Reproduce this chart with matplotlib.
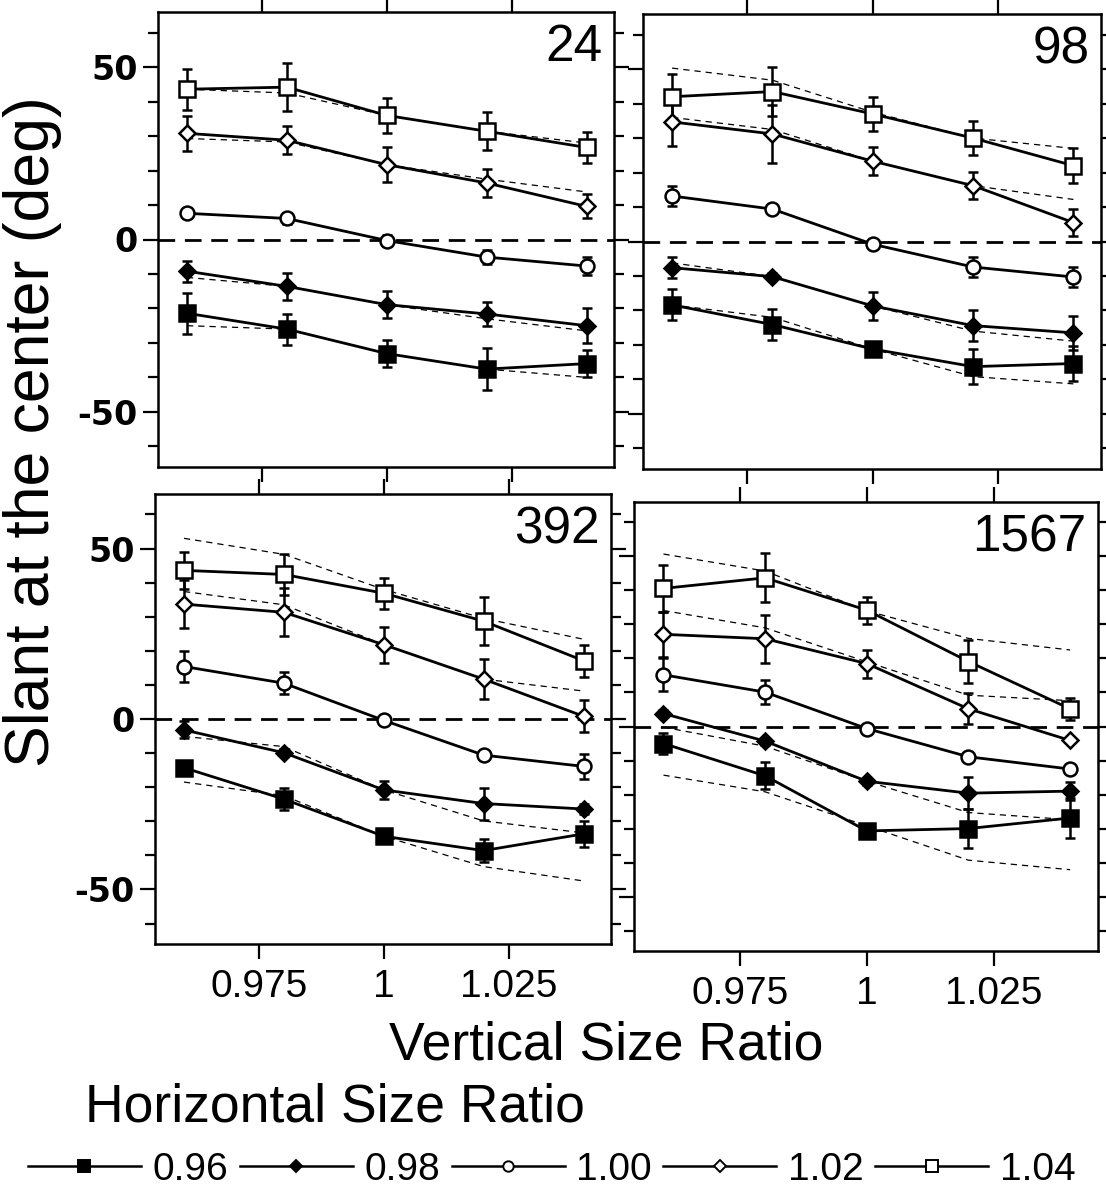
import matplotlib
matplotlib.use("Agg")
import matplotlib.pyplot as plt
from matplotlib.lines import Line2D
from matplotlib.ticker import MultipleLocator

plt.rcParams['font.family'] = ['Liberation Sans', 'DejaVu Sans']

# Vertical size ratio (x) and horizontal size ratio (one curve each)
vertical_ratio = [0.96, 0.98, 1.00, 1.02, 1.04]
horizontal_ratio = ['0.96', '0.98', '1.00', '1.02', '1.04']
panel_names = ['24', '98', '392', '1567']

# Measured slant (deg): one row per horizontal ratio
slant_24 = [[-21.4, -26.0, -33.1, -37.6, -36.0],
            [-9.2, -13.6, -18.9, -21.6, -25.0],
            [7.6, 6.1, -0.3, -5.1, -7.7],
            [30.8, 28.8, 21.7, 16.4, 9.6],
            [43.6, 44.2, 36.0, 31.4, 26.7]]
err_24 = [[6.0, 4.5, 4.0, 6.0, 4.0],
          [3.0, 4.0, 4.0, 3.5, 5.0],
          [1.5, 1.5, 1.5, 2.0, 2.5],
          [5.0, 4.0, 5.0, 4.0, 3.5],
          [6.0, 7.0, 5.0, 5.5, 4.5]]
model_24 = [[-25.0, -26.0, -33.1, -37.6, -40.0],
            [-11.0, -13.6, -18.9, -23.0, -26.5],
            None,
            [29.3, 28.3, 21.7, 17.5, 13.8],
            [43.6, 42.5, 36.0, 31.4, 28.0]]

slant_98 = [[-18.4, -24.1, -31.2, -36.3, -35.4],
            [-7.6, -10.2, -18.7, -24.4, -26.5],
            [13.2, 9.4, -0.8, -7.4, -10.3],
            [34.7, 31.2, 23.3, 16.2, 5.5],
            [42.0, 43.5, 37.0, 30.0, 22.0]]
err_98 = [[4.5, 4.5, 0.8, 5.0, 5.0],
          [3.0, 1.0, 4.0, 4.5, 5.0],
          [3.0, 1.0, 1.0, 3.0, 3.0],
          [7.0, 8.5, 4.0, 4.0, 4.0],
          [6.5, 7.0, 5.0, 5.0, 5.0]]
model_98 = [[-18.4, -22.0, -31.2, -39.2, -41.3],
            [-6.2, -10.2, -18.7, -26.0, -28.9],
            None,
            [36.0, 32.5, 23.3, 16.2, 12.2],
            [50.3, 46.8, 37.5, 30.0, 27.0]]

slant_392 = [[-14.3, -23.5, -34.4, -38.6, -33.7],
             [-3.2, -9.9, -20.8, -24.8, -26.4],
             [15.4, 10.5, -0.4, -10.6, -13.9],
             [33.7, 31.3, 21.8, 11.7, 0.8],
             [43.6, 42.4, 36.9, 28.7, 17.1]]
err_392 = [[1.0, 3.2, 1.0, 3.4, 3.7],
           [2.5, 1.0, 2.7, 4.7, 1.5],
           [4.6, 3.3, 1.0, 1.0, 3.7],
           [7.0, 7.0, 5.3, 5.8, 4.7],
           [5.5, 6.0, 4.5, 7.0, 4.7]]
model_392 = [[-18.5, -22.5, -34.4, -43.3, -47.5],
             [-5.1, -8.1, -20.8, -29.9, -33.4],
             None,
             [37.4, 33.5, 21.8, 11.7, 8.2],
             [53.0, 48.3, 38.0, 29.5, 23.4]]

slant_1567 = [[-5.0, -14.5, -30.7, -30.0, -26.9],
              [3.8, -4.3, -16.1, -19.6, -19.0],
              [15.2, 10.1, -0.6, -8.9, -12.5],
              [27.1, 25.8, 18.5, 5.2, -4.1],
              [40.6, 43.7, 34.2, 19.1, 5.2]]
err_1567 = [[3.0, 4.0, 1.0, 5.6, 5.9],
            [1.0, 1.0, 1.0, 4.7, 2.7],
            [4.9, 3.6, 1.0, 1.0, 1.0],
            [6.7, 7.0, 4.1, 4.6, 0.5],
            [7.0, 7.2, 4.0, 6.2, 3.2]]
model_1567 = [[-14.3, -19.2, -29.2, -39.3, -42.1],
              [-0.2, -5.8, -16.1, -25.3, -27.4],
              None,
              [34.1, 29.0, 19.0, 9.2, 7.6],
              [50.7, 45.7, 34.0, 25.9, 22.5]]

x_ticks = [0.975, 1.0, 1.025]
x_tick_labels = ['0.975', '1', '1.025']
y_ticks = [-50, 0, 50]
y_tick_labels = ['-50', '0', '50']

# marker, face colour, marker size for each horizontal ratio
styles = [('s', 'black', 11.0), ('D', 'black', 8.0), ('o', 'white', 10.0),
          ('D', 'white', 8.0), ('s', 'white', 11.0)]

panels = [(panel_names[0], slant_24, err_24, model_24),
          (panel_names[1], slant_98, err_98, model_98),
          (panel_names[2], slant_392, err_392, model_392),
          (panel_names[3], slant_1567, err_1567, model_1567)]

W, H = 1106, 1200
boxes = [(158, 614, 12, 467), (643, 1101, 14, 469),
         (155, 611, 494, 944), (634, 1098, 502, 951)]

fig = plt.figure(figsize=(W / 100, H / 100), dpi=100)

for k, ((name, slant, err, model), (x0, x1, y0, y1)) in enumerate(zip(panels, boxes)):
    ax = fig.add_axes([x0 / W, 1 - y1 / H, (x1 - x0) / W, (y1 - y0) / H])
    ax.axhline(0, color='black', lw=2.0, linestyle=(0, (6, 3.5)), zorder=1)
    for i, (mk, fc, ms) in enumerate(styles):
        if model[i] is not None:
            ax.plot(vertical_ratio, model[i], color='black', lw=0.9,
                    linestyle=(0, (5, 4)), zorder=2)
        ax.errorbar(vertical_ratio, slant[i], yerr=err[i], color='black',
                    lw=2.0, elinewidth=1.8, capsize=3.5, capthick=1.8,
                    marker=mk, markersize=ms, markerfacecolor=fc,
                    markeredgecolor='black', markeredgewidth=1.8, zorder=3)
    ax.set_xlim(0.9542, 1.0455)
    ax.set_ylim(-66, 66)
    ax.set_xticks(x_ticks)
    ax.set_yticks(y_ticks)
    ax.yaxis.set_minor_locator(MultipleLocator(10))
    ax.tick_params(which='both', direction='out', top=True, right=True,
                   width=1.6, labelsize=27)
    ax.tick_params(which='major', length=11)
    ax.tick_params(which='minor', length=7)
    ax.tick_params(axis='x', which='minor', bottom=False, top=False)
    for sp in ax.spines.values():
        sp.set_linewidth(1.8)
    if k % 2 == 0:
        ax.set_yticklabels(y_tick_labels, family='DejaVu Sans',
                           weight='bold', fontsize=24)
    else:
        ax.set_yticklabels([])
    if k >= 2:
        ax.set_xticklabels(x_tick_labels, fontsize=28)
        ax.tick_params(axis='x', pad=7)
    else:
        ax.set_xticklabels([])
    ax.text(0.975, 0.975, name, transform=ax.transAxes, ha='right',
            va='top', fontsize=37)

fig.text(33 / W, 1 - 432 / H, 'Slant at the center (deg)', rotation=90,
         ha='center', va='center', fontsize=45)
fig.text(606 / W, 1 - 1045 / H, 'Vertical Size Ratio', ha='center',
         va='center', fontsize=38.5)
fig.text(85 / W, 1 - 1108 / H, 'Horizontal Size Ratio', ha='left',
         va='center', fontsize=38.5)

handles = [Line2D([], [], color='black', lw=1.8, marker=mk,
                  markersize=ms * 0.75, markerfacecolor=fc,
                  markeredgecolor='black', markeredgewidth=1.4)
           for mk, fc, ms in styles]
fig.legend(handles, horizontal_ratio, loc='center left',
           bbox_to_anchor=(28 / W, 1 - 1170 / H), ncol=5, frameon=False,
           fontsize=28, handlelength=2.9, handletextpad=0.3,
           columnspacing=0.3, borderaxespad=0, borderpad=0)

fig.savefig('out.png', dpi=100)
